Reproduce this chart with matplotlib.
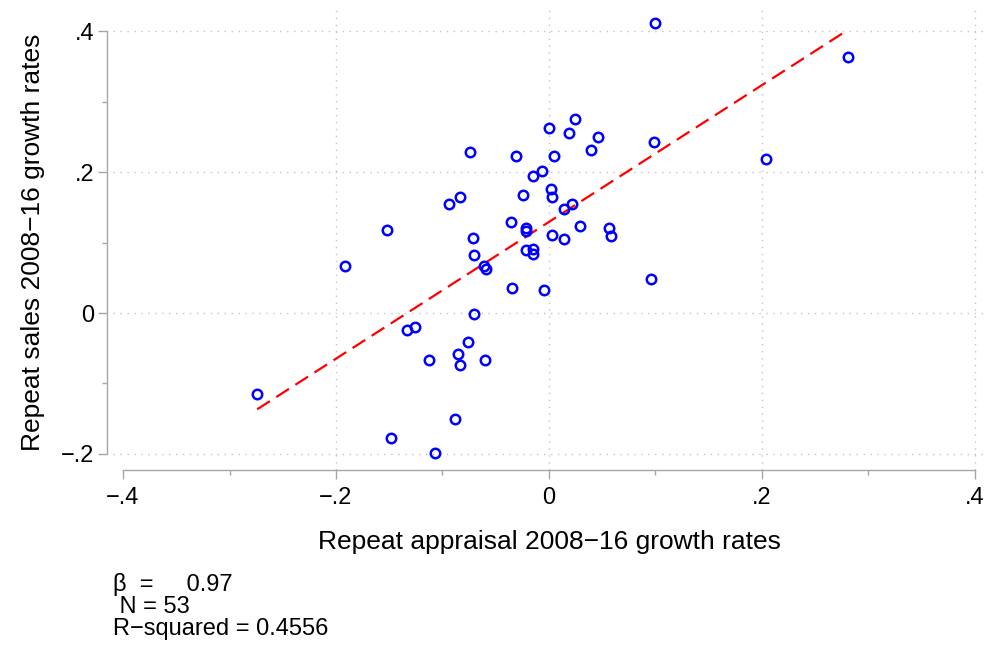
import numpy as np
import matplotlib
matplotlib.use("Agg")
import matplotlib.pyplot as plt
from matplotlib.ticker import MultipleLocator

plt.rcParams['font.family'] = ['Liberation Sans', 'DejaVu Sans']

# repeat appraisal vs repeat sales growth rates
appraisal = [-0.074, -0.031, 0.000, -0.015, -0.007, -0.084, -0.094, -0.024, -0.152, -0.036,
             -0.022, -0.022, -0.071, 0.100, 0.281, 0.024, 0.019, 0.046, 0.039, 0.099,
             0.005, 0.204, 0.002, 0.003, 0.022, 0.014, 0.029, 0.056, 0.058, 0.003,
             0.014, -0.070, -0.192, -0.061, -0.059, -0.022, -0.015, -0.015, -0.035, -0.005,
             -0.070, -0.133, -0.126, -0.076, -0.085, -0.113, -0.060, -0.084, -0.274, -0.088,
             -0.148, -0.107, 0.096]
sales = [0.229, 0.223, 0.262, 0.195, 0.201, 0.165, 0.154, 0.168, 0.118, 0.129,
         0.121, 0.117, 0.107, 0.411, 0.363, 0.275, 0.255, 0.250, 0.231, 0.242,
         0.222, 0.218, 0.176, 0.165, 0.154, 0.148, 0.123, 0.120, 0.109, 0.111,
         0.105, 0.082, 0.067, 0.067, 0.063, 0.089, 0.091, 0.083, 0.036, 0.033,
         -0.001, -0.024, -0.020, -0.041, -0.058, -0.067, -0.066, -0.074, -0.115, -0.151,
         -0.177, -0.198, 0.048]

# regression stats printed under the chart
beta = 0.97
n_obs = 53
r_squared = 0.4556

x_ticks = [-0.4, -0.2, 0, 0.2, 0.4]
x_labels = ['\u2212.4', '\u2212.2', '0', '.2', '.4']
y_ticks = [-0.2, 0, 0.2, 0.4]
y_labels = ['\u2212.2', '0', '.2', '.4']

x = np.array(appraisal)
y = np.array(sales)
slope, intercept = np.polyfit(x, y, 1)

fig = plt.figure(figsize=(9.84, 6.48), dpi=100)
ax = fig.add_axes([113 / 984, 178 / 648, 871 / 984, 460 / 648])
ax.set_xlim(-0.4094, 0.4085)
ax.set_ylim(-0.2227, 0.4298)

# dotted grid (stata style, no line at the -.4 edge)
for gx in x_ticks[1:]:
    ax.axvline(gx, color='#c4c4c4', lw=1.0, ls=(0, (1, 4)), zorder=0)
for gy in y_ticks:
    ax.axhline(gy, color='#c4c4c4', lw=1.0, ls=(0, (1, 4)), zorder=0)

# fitted line over the data range
xs = np.array([x.min(), x.max()])
ax.plot(xs, slope * xs + intercept, color='red', lw=1.6, dashes=(6.8, 3.4), zorder=2)
ax.plot(x, y, 'o', ms=6.8, mfc='none', mec='blue', mew=1.8, zorder=3)

# axes
for s in ['top', 'right']:
    ax.spines[s].set_visible(False)
ax.spines['left'].set_position(('outward', 4))
ax.spines['left'].set_bounds(-0.2, 0.4)
ax.spines['bottom'].set_bounds(-0.4, 0.4)
for s in ['left', 'bottom']:
    ax.spines[s].set_color('#a6a6a6')
    ax.spines[s].set_linewidth(1.0)

ax.set_xticks(x_ticks, x_labels)
ax.set_yticks(y_ticks, y_labels)
ax.xaxis.set_minor_locator(MultipleLocator(0.1))
ax.yaxis.set_minor_locator(MultipleLocator(0.1))
ax.tick_params(which='major', length=6.5, width=1.0, color='#a6a6a6', labelsize=17, pad=3)
ax.tick_params(axis='x', which='major', pad=5.5)
ax.tick_params(which='minor', length=3.6, width=1.0, color='#a6a6a6')

fig.text(549 / 984, 1 - 542 / 648, 'Repeat appraisal 2008\u221216 growth rates',
         ha='center', va='center', fontsize=19)
fig.text(33 / 984, 1 - 242 / 648, 'Repeat sales 2008\u221216 growth rates',
         ha='center', va='center', rotation=90, fontsize=19)

fig.text(113 / 984, 1 - 585 / 648, '\u03b2  =     %.2f' % beta, ha='left', va='center', fontsize=17)
fig.text(113 / 984, 1 - 607 / 648, ' N = %d' % n_obs, ha='left', va='center', fontsize=17)
fig.text(113 / 984, 1 - 629 / 648, 'R\u2212squared = %.4f' % r_squared, ha='left', va='center', fontsize=17)

fig.savefig('out.png', dpi=100)
